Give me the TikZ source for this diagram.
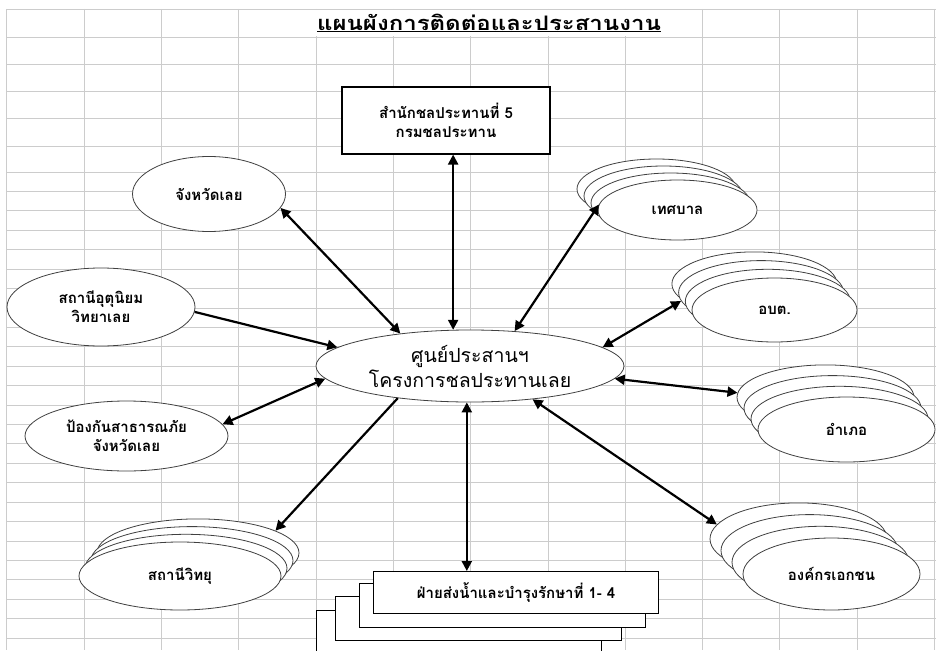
\documentclass[tikz,border=0pt]{standalone}
\usepackage{fontspec}
\newfontfamily\thai[Script=Thai]{Loma}
\newfontfamily\thaiwide[Script=Thai,FakeStretch=1.2]{Loma}
\usetikzlibrary{shapes,arrows.meta}

\begin{document}
\begin{tikzpicture}
  [x=1pt,y=-1pt,
   gridL/.style={draw=black!20,line width=0.8pt},
   ovalN/.style={ellipse,draw=black!75,fill=white,line width=0.8pt,inner sep=0pt,
     align=center,font=\thai\bfseries\fontsize{15}{19}\selectfont},
   boxN/.style={rectangle,draw,fill=white,line width=1.1pt,inner sep=0pt,
     align=center,font=\thai\bfseries\fontsize{15}{19}\selectfont},
   oneway/.style={line width=2.2pt,-{Triangle[length=10pt,width=10pt]}},
   twoway/.style={line width=2.2pt,{Triangle[length=10pt,width=10pt]}-{Triangle[length=10pt,width=10pt]}}]

  \useasboundingbox (0,0) rectangle (936,650);
  \fill[white] (0,0) rectangle (936,650);

  % sheet grid
  \foreach \gx in {0,...,12}
    \draw[gridL] ({6.8+77.3*\gx},9) -- ({6.8+77.3*\gx},650);
  \foreach \gy in {9,37,64,91,118,146}
    \draw[gridL] (6.8,\gy) -- (936,\gy);
  \foreach \gk in {0,...,24}
    \draw[gridL] (6.8,{172+19.42*\gk}) -- (936,{172+19.42*\gk});

  % title
  \node[fill=white,inner xsep=1pt,minimum height=26pt,
        font=\thaiwide\bfseries\fontsize{20}{22}\selectfont] (title) at (489,23)
    {\underline{แผนผังการติดต่อและประสานงาน}};

  % centre
  \node[ovalN,minimum width=308pt,minimum height=72pt,
        font=\thai\fontsize{19.5}{25}\selectfont] (hub) at (470,366)
    {ศูนย์ประสานฯ\\โครงการชลประทานเลย};

  % single boxes and ovals
  \node[boxN,minimum width=208pt,minimum height=67pt] (rid) at (446,120.5)
    {สำนักชลประทานที่ 5\\กรมชลประทาน};
  \node[ovalN,minimum width=153pt,minimum height=75pt] (jang) at (209,194) {จังหวัดเลย};
  \node[ovalN,minimum width=188pt,minimum height=78pt] (met) at (101,307)
    {สถานีอุตุนิยม\\วิทยาเลย};
  \node[ovalN,minimum width=203pt,minimum height=70pt] (disas) at (126.5,436)
    {ป้องกันสาธารณภัย\\จังหวัดเลย};

  % stacked ovals
  \foreach \k in {3,2,1}
    \node[ovalN,minimum width=202pt,minimum height=68pt] (radio\k) at ({180+6*\k},{576-7.7*\k}) {};
  \node[ovalN,minimum width=202pt,minimum height=68pt] (radio) at (180,576) {สถานีวิทยุ};

  \foreach \k in {3,2,1}
    \node[ovalN,minimum width=159pt,minimum height=60pt] (thes\k) at ({677.5-7*\k},{210-7*\k}) {};
  \node[ovalN,minimum width=159pt,minimum height=60pt] (thes) at (677.5,210) {เทศบาล};

  \foreach \k in {3,2,1}
    \node[ovalN,minimum width=165pt,minimum height=64pt] (obt\k) at ({774.5-6.7*\k},{310-8.7*\k}) {};
  \node[ovalN,minimum width=165pt,minimum height=64pt] (obt) at (774.5,310) {อบต.};

  \foreach \k in {3,2,1}
    \node[ovalN,minimum width=177pt,minimum height=65pt] (amph\k) at ({846.5-7*\k},{429.5-10.7*\k}) {};
  \node[ovalN,minimum width=177pt,minimum height=65pt] (amph) at (846.5,429.5) {อำเภอ};

  \foreach \k in {3,2,1}
    \node[ovalN,minimum width=177pt,minimum height=72pt] (ngo\k) at ({831.5-11*\k},{574-11.7*\k}) {};
  \node[ovalN,minimum width=177pt,minimum height=72pt] (ngo) at (831.5,574) {องค์กรเอกชน};

  % stacked boxes, cut by the sheet edge
  \begin{scope}
    \clip (0,0) rectangle (936,650);
    \node[boxN,anchor=north west,minimum width=285pt,minimum height=44pt] (fw3) at (316,610) {};
    \node[boxN,anchor=north west,minimum width=286pt,minimum height=44pt] (fw2) at (335,596) {};
    \node[boxN,anchor=north west,minimum width=286pt,minimum height=44pt] (fw1) at (359,583) {};
    \node[boxN,anchor=north west,minimum width=285pt,minimum height=42pt] (fw) at (373,571)
      {ฝ่ายส่งน้ำและบำรุงรักษาที่ 1- 4};
  \end{scope}

  % links
  \draw[twoway] (hub.115 |- rid.south) -- (hub.115);
  \draw[twoway] (hub.155) -- (jang.-11);
  \draw[oneway] (met.-3) -- (hub.172);
  \draw[twoway] (hub.185.5) -- (disas.7);
  \draw[oneway] (hub.204) -- (radio3.16);
  \draw[twoway] (hub.265) -- (hub.265 |- fw.north);
  \draw[twoway] (hub.-28.4) -- (ngo3.170);
  \draw[twoway] (hub.-5.4) -- (amph3.177);
  \draw[twoway] (hub.8.8) -- (obt2.186.6);
  \draw[twoway] (hub.38.7) -- (thes.176);
\end{tikzpicture}
\end{document}
